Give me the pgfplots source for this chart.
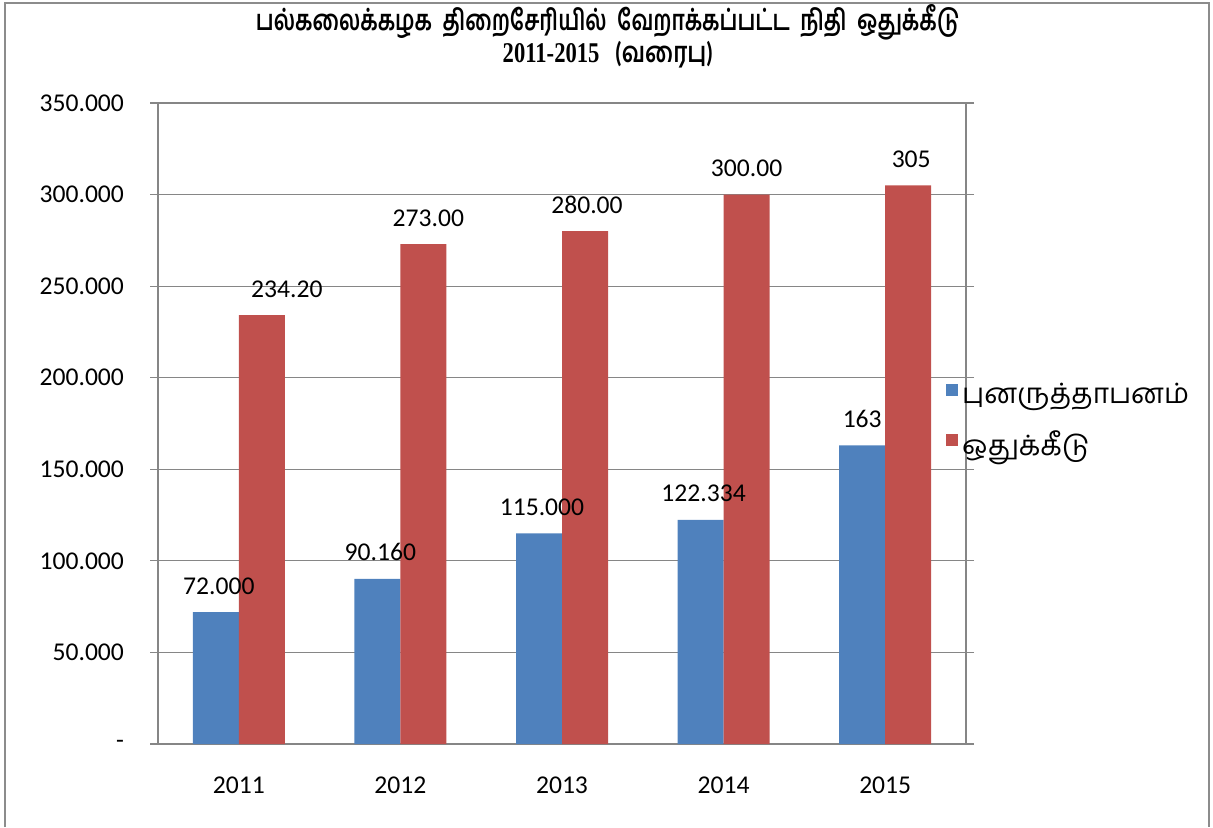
\documentclass[border=0pt]{standalone}
\usepackage{graphicx}
\usepackage{fontspec}
\usepackage{pgfplots}
\usepackage{pgfplotstable}
\pgfplotsset{compat=1.18}
\setmainfont{Carlito}
\newfontfamily\tamil[Script=Tamil]{Hind Madurai}
\newfontfamily\titleserif{Liberation Serif}

\definecolor{barblue}{RGB}{79,129,189}
\definecolor{barred}{RGB}{192,80,77}
\definecolor{gridgray}{RGB}{134,134,134}
\definecolor{framegray}{RGB}{140,140,140}

% punaruththaapanam (renovation)
\pgfplotstableread{
x val lab dx
1 72 72.000 1.5
2 90.16 90.160 1.5
3 115 115.000 1.5
4 122.334 122.334 1.5
5 163 163 0
}\renov
% othukkeedu (allocation)
\pgfplotstableread{
x val lab dx
1 234.2 234.20 12.5
2 273 273.00 2.5
3 280 280.00 1
4 300 300.00 0
5 305 305 1.5
}\alloc

\begin{document}
\begin{tikzpicture}
\useasboundingbox (0,0) rectangle (606.5pt,413.5pt);
\draw[framegray, line width=1.2pt] (2.5pt,0) -- (2.5pt,412pt) -- (604.5pt,412pt) -- (604.5pt,0);
\node[font=\tamil\bfseries\fontsize{13}{15}\selectfont] at (304pt,402.5pt)
  {\scalebox{0.82}[1.1]{பல்கலைக்கழக\ \ திறைசேரியில்\ \ வேறாக்கப்பட்ட\ \ நிதி\ \ ஒதுக்கீடு}};
\node[font=\bfseries\fontsize{13}{15}\selectfont] at (304pt,386pt)
  {\scalebox{0.87}[1.1]{{\titleserif 2011-2015}\ \ \ ({\tamil வரைபு})}};

\begin{axis}[
    at={(79pt,41.5pt)}, anchor=south west,
    scale only axis,
    width=404pt, height=320.5pt,
    ybar=0pt, bar width=23pt,
    xmin=0.5, xmax=5.5,
    ymin=0, ymax=350,
    xtick={1,2,3,4,5},
    xticklabels={2011,2012,2013,2014,2015},
    major x tick style={draw=none},
    extra x ticks={0.5,1.5,2.5,3.5,4.5,5.5},
    extra x tick labels={},
    extra x tick style={major tick length=4pt, tick align=outside,
      major tick style={draw=gridgray}, grid=none},
    ytick={0,50,100,150,200,250,300,350},
    yticklabels={{-\hspace{7.5pt}},50.000,100.000,150.000,200.000,250.000,300.000,350.000},
    tick align=outside, major tick length=4pt,
    ymajorgrids, grid style={gridgray, line width=0.6pt},
    axis line style={gridgray, line width=0.6pt},
    tick style={gridgray, line width=0.6pt},
    x axis line style={-}, y axis line style={-},
    ticklabel style={font=\fontsize{12.8}{14}\selectfont, text=black},
    yticklabel style={xshift=-9.5pt},
    xticklabel style={yshift=-9pt},
    nodes near coords={\pgfplotspointmeta},
    point meta=explicit symbolic,
    visualization depends on={\thisrow{dx} \as \dx},
    every node near coord/.append style={font=\fontsize{12.8}{14}\selectfont,
      anchor=base, yshift=9pt, xshift=\dx pt, inner sep=0pt},
    legend style={at={(rel axis cs:0.975,0.504)}, anchor=west, draw=none,
      fill=none, font=\tamil\fontsize{14}{16}\selectfont,
      row sep=8pt, inner sep=0pt},
    legend cell align=left,
    legend image code/.code={\fill[#1,draw=none] (0pt,-0.5pt) rectangle (6pt,5.5pt);},
    clip=false,
]
\addplot[fill=barblue, draw=none] table[x=x, y=val, meta=lab] {\renov};
\addplot[fill=barred, draw=none] table[x=x, y=val, meta=lab] {\alloc};
\legend{புனருத்தாபனம், ஒதுக்கீடு}
\end{axis}
\end{tikzpicture}
\end{document}
